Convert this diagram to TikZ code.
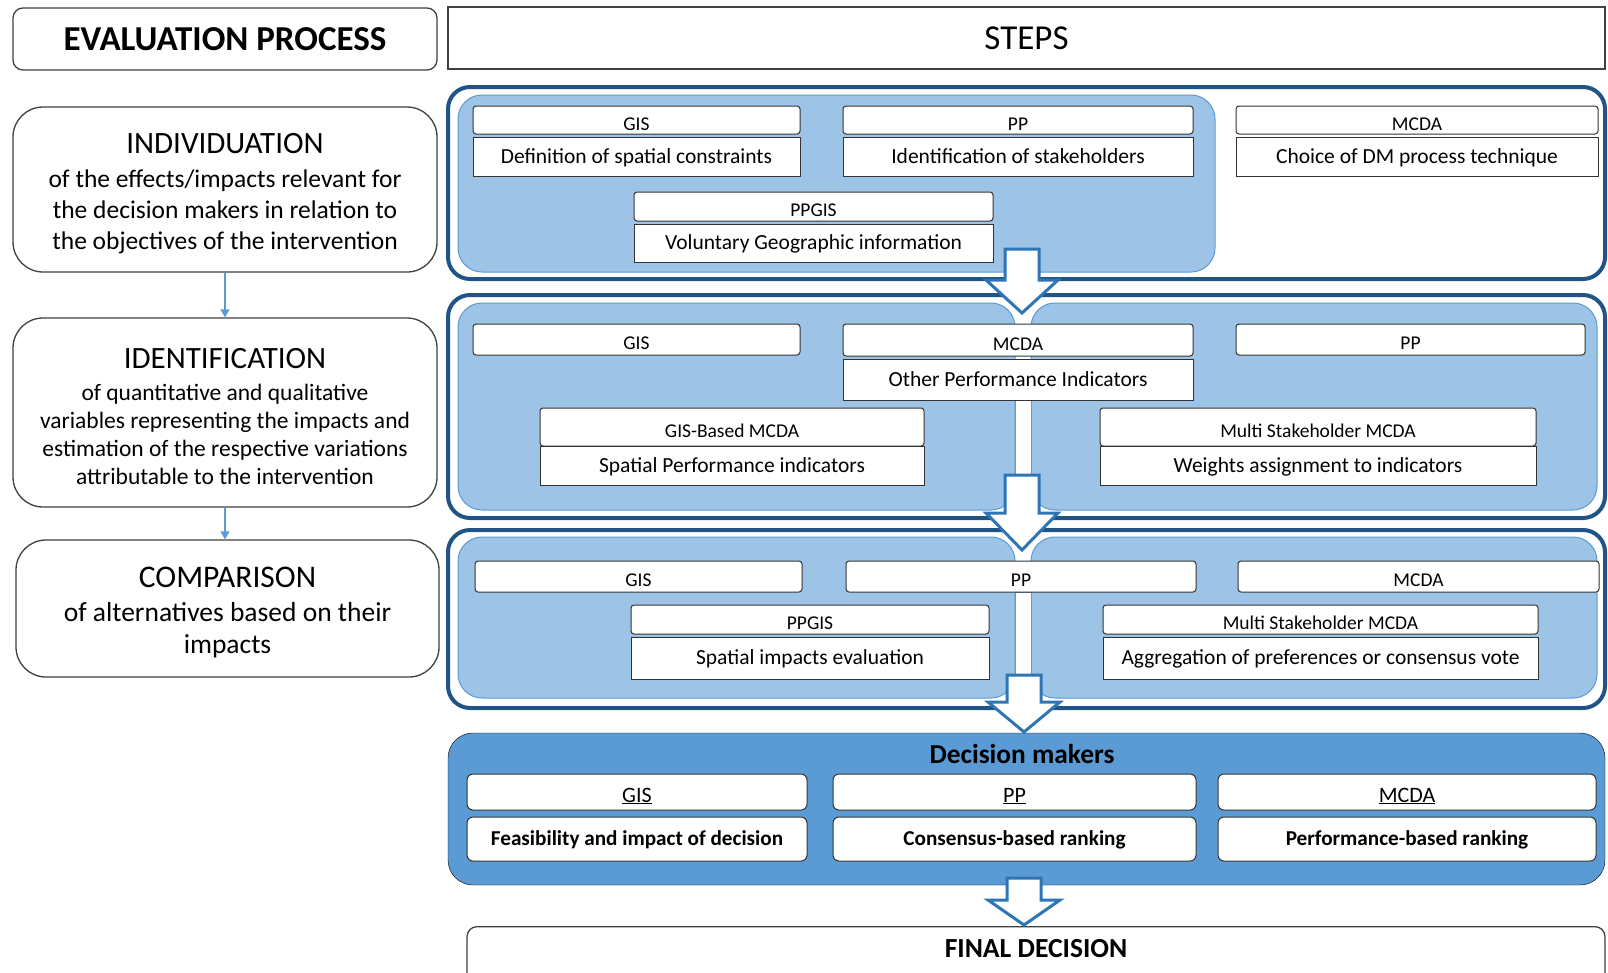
\documentclass[tikz,border=0pt]{standalone}
\usepackage{fontspec}
\setmainfont{Carlito}
\usetikzlibrary{arrows.meta}
\definecolor{panelblue}{RGB}{157,195,230}
\definecolor{paneledge}{RGB}{91,155,213}
\definecolor{framedark}{RGB}{32,84,134}
\definecolor{dmblue}{RGB}{91,155,213}
\definecolor{arrowblue}{RGB}{46,117,182}
\definecolor{linkblue}{RGB}{91,155,213}

% hollow block arrow: x centre, body top, head base, tip
\newcommand{\blockarrow}[4]{%
  \draw[bigarrow] (#1-17,#2) -- (#1+17,#2) -- (#1+17,#3) -- (#1+36,#3)
    -- (#1,#4) -- (#1-36,#3) -- (#1-17,#3) -- cycle;}

\begin{document}
\begin{tikzpicture}[x=1pt, y=-1pt,
    leftbox/.style={draw=black!75, line width=1.3pt, fill=white, rounded corners=30pt,
      align=center, minimum width=424, inner sep=0pt},
    topbox/.style={draw=black!75, line width=1.3pt, fill=white, minimum height=62, inner sep=0pt},
    frame/.style={draw=framedark, line width=4pt, fill=white, rounded corners=22pt},
    inner/.style={draw=paneledge, line width=1pt, fill=panelblue, rounded corners=24pt},
    headbox/.style={draw=black!80, line width=1pt, fill=white, rounded corners=3pt,
      inner sep=0pt, text height=20pt, text depth=0pt, font=\fontsize{19.5}{22}\selectfont},
    bodybox/.style={headbox, sharp corners, text height=17pt, text depth=4pt,
      font=\fontsize{21.5}{24}\selectfont},
    dmhead/.style={headbox, rounded corners=6pt, font=\fontsize{22}{24}\selectfont},
    dmbody/.style={bodybox, rounded corners=6pt, font=\fontsize{21.2}{24}\selectfont\bfseries},
    dmpanel/.style={fill=dmblue, rounded corners=25pt},
    bigarrow/.style={draw=arrowblue, line width=3pt, fill=white, line join=miter},
    shaft/.style={draw=paneledge, line width=1pt, fill=white},
    link/.style={draw=linkblue, line width=1.5pt, -{Triangle[length=8pt,width=9pt]}}]
    \useasboundingbox (0,0) rectangle (1608,972);

    % Headers
    \node[topbox, rounded corners=10pt, minimum width=424,
      font=\fontsize{35}{40}\selectfont\bfseries] (evalhdr) at (225,39) {EVALUATION PROCESS};
    \node[topbox, minimum width=1157, font=\fontsize{35}{40}\selectfont] (stepshdr) at (1026.5,38) {STEPS};

    % Evaluation process column
    \node[leftbox, minimum height=165, font=\fontsize{25.5}{31}\selectfont] (indiv) at (225,189.5)
      {\rule{0pt}{29pt}{\fontsize{31}{34}\selectfont INDIVIDUATION}\\[3pt] of the effects/impacts relevant for\\
       the decision makers in relation to\\ the objectives of the intervention};
    \node[leftbox, minimum height=189, font=\fontsize{23.5}{28}\selectfont] (ident) at (225,412.5)
      {\rule{0pt}{29pt}{\fontsize{31}{34}\selectfont IDENTIFICATION}\\[4pt] of quantitative and qualitative\\
       variables representing the impacts and\\ estimation of the respective variations\\
       attributable to the intervention};
    \node[leftbox, minimum width=423, minimum height=137, font=\fontsize{27.5}{32}\selectfont] (compar) at (227.5,608.5)
      {\rule{0pt}{29pt}{\fontsize{31.5}{34}\selectfont COMPARISON}\\[2pt] of alternatives based on their\\ impacts};
    \draw[link] (indiv.south) -- (indiv.south |- ident.north);
    \draw[link] (ident.south) -- (ident.south |- compar.north);

    % Panels
    \draw[frame] (448,87) rectangle (1605,279);
    \draw[inner] (458,95) rectangle (1215,272);
    \draw[frame] (448,295) rectangle (1605,518);
    \draw[inner] (458,303) rectangle (1015,510);
    \draw[inner] (1031,303) rectangle (1597,510);
    \draw[frame] (448,530) rectangle (1605,708);
    \draw[inner] (458,537) rectangle (1015,698);
    \draw[inner] (1031,537) rectangle (1597,698);
    \draw[dmpanel] (448,733) rectangle (1605,885);

    % Step 1
    \node[headbox, minimum width=327, minimum height=28] (gisA) at (636.5,120) {GIS};
    \node[bodybox, minimum width=327, minimum height=39] (defA) at (636.5,156.5) {Definition of spatial constraints};
    \node[headbox, minimum width=350, minimum height=28] (ppA) at (1018,120) {PP};
    \node[bodybox, minimum width=350, minimum height=39] (stakeA) at (1018,156.5) {Identification of stakeholders};
    \node[headbox, minimum width=362, minimum height=28] (mcdaA) at (1417,120) {MCDA};
    \node[bodybox, minimum width=362, minimum height=39] (choiceA) at (1417,156.5) {Choice of DM process technique};
    \node[headbox, minimum width=359, minimum height=29] (ppgisA) at (813.5,206.5) {PPGIS};
    \node[bodybox, minimum width=359, minimum height=38] (vgiA) at (813.5,243) {Voluntary Geographic information};

    % Step 2
    \draw[shaft] (1015,400) rectangle (1031,478);
    \node[headbox, minimum width=327, minimum height=31] (gisB) at (636.5,339.5) {GIS};
    \node[headbox, minimum width=350, minimum height=32] (mcdaB) at (1018,340) {MCDA};
    \node[bodybox, minimum width=350, minimum height=41] (otherB) at (1018,379.5) {Other Performance Indicators};
    \node[headbox, minimum width=349, minimum height=31] (ppB) at (1410.5,339.5) {PP};
    \node[headbox, minimum width=384, minimum height=38] (gbB) at (732,427) {GIS-Based MCDA};
    \node[bodybox, minimum width=384, minimum height=39] (spiB) at (732,465.5) {Spatial Performance indicators};
    \node[headbox, minimum width=436, minimum height=38] (msB) at (1318,427) {Multi Stakeholder MCDA};
    \node[bodybox, minimum width=436, minimum height=39] (wB) at (1318,465.5) {Weights assignment to indicators};

    % Step 3
    \draw[shaft] (1015,592) rectangle (1031,678);
    \node[headbox, minimum width=327, minimum height=31] (gisC) at (638.5,576.5) {GIS};
    \node[headbox, minimum width=350, minimum height=31] (ppC) at (1021,576.5) {PP};
    \node[headbox, minimum width=361, minimum height=31] (mcdaC) at (1418.5,576.5) {MCDA};
    \node[headbox, minimum width=358, minimum height=29] (ppgisC) at (810,619.5) {PPGIS};
    \node[bodybox, minimum width=358, minimum height=42] (sieC) at (810,658) {Spatial impacts evaluation};
    \node[headbox, minimum width=435, minimum height=29] (msC) at (1320.5,619.5) {Multi Stakeholder MCDA};
    \node[bodybox, minimum width=435, minimum height=42] (aggC) at (1320.5,658) {Aggregation of preferences or consensus vote};

    % Decision makers
    \node[font=\fontsize{27.4}{30}\selectfont\bfseries] (dmtitle) at (1022,754) {Decision makers};
    \node[dmhead, minimum width=340, minimum height=36] (gisD) at (637,792) {\underline{GIS}};
    \node[dmbody, minimum width=340, minimum height=44] (feasD) at (637,839) {Feasibility and impact of decision};
    \node[dmhead, minimum width=363, minimum height=36] (ppD) at (1014.5,792) {\underline{PP}};
    \node[dmbody, minimum width=363, minimum height=44] (consD) at (1014.5,839) {Consensus-based ranking};
    \node[dmhead, minimum width=378, minimum height=36] (mcdaD) at (1407,792) {\underline{MCDA}};
    \node[dmbody, minimum width=378, minimum height=44] (perfD) at (1407,839) {Performance-based ranking};

    % Final decision
    \node[topbox, rounded corners=10pt, minimum width=1138, minimum height=70, anchor=north] (finalbox) at (1036,926) {};
    \node[font=\fontsize{27.6}{32}\selectfont\bfseries] (finaltxt) at (1036,949) {FINAL DECISION};

    % Block arrows
    \blockarrow{1022}{249}{280}{313}
    \blockarrow{1022}{475}{513}{550}
    \blockarrow{1024}{675}{702}{732}
    \blockarrow{1024}{878}{900}{925}
\end{tikzpicture}
\end{document}
